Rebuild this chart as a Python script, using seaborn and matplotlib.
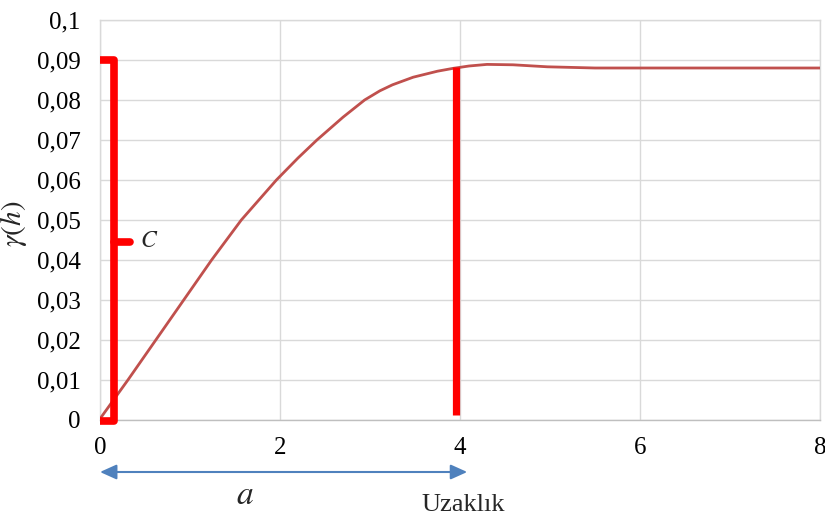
import matplotlib
matplotlib.use("Agg")
import matplotlib.pyplot as plt
import seaborn as sns
import pandas as pd

# ---- data ----
distance = [0, 0.31, 0.62, 0.93, 1.24, 1.57, 1.96, 2.2, 2.41, 2.7, 2.94, 3.11,
            3.25, 3.48, 3.75, 3.92, 4.1, 4.3, 4.59, 4.97, 5.5, 6, 7, 8]
gamma = [0.0003, 0.0100, 0.0200, 0.0300, 0.0400, 0.0500, 0.0600, 0.0655, 0.0700,
         0.0757, 0.0800, 0.0823, 0.0838, 0.0857, 0.0872, 0.0879, 0.0885, 0.0889,
         0.0888, 0.0883, 0.0880, 0.0880, 0.0880, 0.0880]

x_ticks = [0, 2, 4, 6, 8]
x_tick_labels = ["0", "2", "4", "6", "8"]
y_ticks = [0, 0.01, 0.02, 0.03, 0.04, 0.05, 0.06, 0.07, 0.08, 0.09, 0.1]
y_tick_labels = ["0", "0,01", "0,02", "0,03", "0,04", "0,05", "0,06", "0,07",
                 "0,08", "0,09", "0,1"]

sill = 0.09          # bracket top (C)
sill_mid = 0.0446    # bracket nub
range_a = 3.96       # red vertical line position
range_top = 0.0883

df = pd.DataFrame({"Uzaklık": distance, "gamma": gamma})

sns.set_style("white")
plt.rcParams["font.family"] = ["Liberation Serif", "DejaVu Serif"]
plt.rcParams["mathtext.fontset"] = "stix"

fig = plt.figure(figsize=(8.25, 5.2), dpi=100)
ax = fig.add_axes([100 / 825, 1 - 420 / 520, 720 / 825, 400 / 520])

sns.lineplot(data=df, x="Uzaklık", y="gamma", ax=ax, color="#C0504D",
             linewidth=2.0, zorder=3)

ax.set_xlim(0, 8)
ax.set_ylim(0, 0.1)
ax.set_xticks(x_ticks)
ax.set_xticklabels(x_tick_labels)
ax.set_yticks(y_ticks)
ax.set_yticklabels(y_tick_labels)
ax.tick_params(axis="both", length=0, labelsize=18, colors="black")
ax.tick_params(axis="x", pad=12)
ax.tick_params(axis="y", pad=14)

ax.grid(True, color="#D9D9D9", linewidth=1.0)
ax.set_axisbelow(True)
for name, sp in ax.spines.items():
    sp.set_visible(True)
    sp.set_color("#D9D9D9")
    sp.set_linewidth(1.0)
ax.spines["bottom"].set_color("#BFBFBF")

ax.set_xlabel("Uzaklık", fontsize=19)
ax.set_ylabel(r"$\gamma(h)$", fontsize=21)
ax.yaxis.set_label_coords(-0.098, 0.49)
ax.xaxis.set_label_coords(0.504, -0.185)

# red vertical line at range a
ax.plot([range_a, range_a], [0.0012, range_top], color="#FF0000",
        linewidth=5.2, solid_capstyle="butt", zorder=4)

# red bracket for C
bx = 0.155
ax.plot([0.0, bx, bx, 0.0], [sill, sill, -0.0003, -0.0003], color="#FF0000",
        linewidth=5.5, solid_joinstyle="round", solid_capstyle="butt",
        clip_on=False, zorder=5)
ax.plot([bx, 0.33], [sill_mid, sill_mid], color="#FF0000", linewidth=5.5,
        solid_capstyle="round", clip_on=False, zorder=5)
ax.text(0.45, sill_mid, r"$C$", fontsize=17, va="center", ha="left")

# blue double-headed arrow for a
tr = ax.get_xaxis_transform()
ax.annotate("", xy=(0.0, -0.13), xytext=(4.08, -0.13), xycoords=tr,
            textcoords=tr,
            arrowprops=dict(arrowstyle="<|-|>,head_length=1.0,head_width=0.45",
                            color="#4F81BD", lw=1.5, shrinkA=0, shrinkB=0),
            annotation_clip=False)
ax.text(1.61, -0.19, r"$a$", fontsize=24, ha="center", va="center",
        transform=tr)

fig.savefig("out.png", dpi=100)
